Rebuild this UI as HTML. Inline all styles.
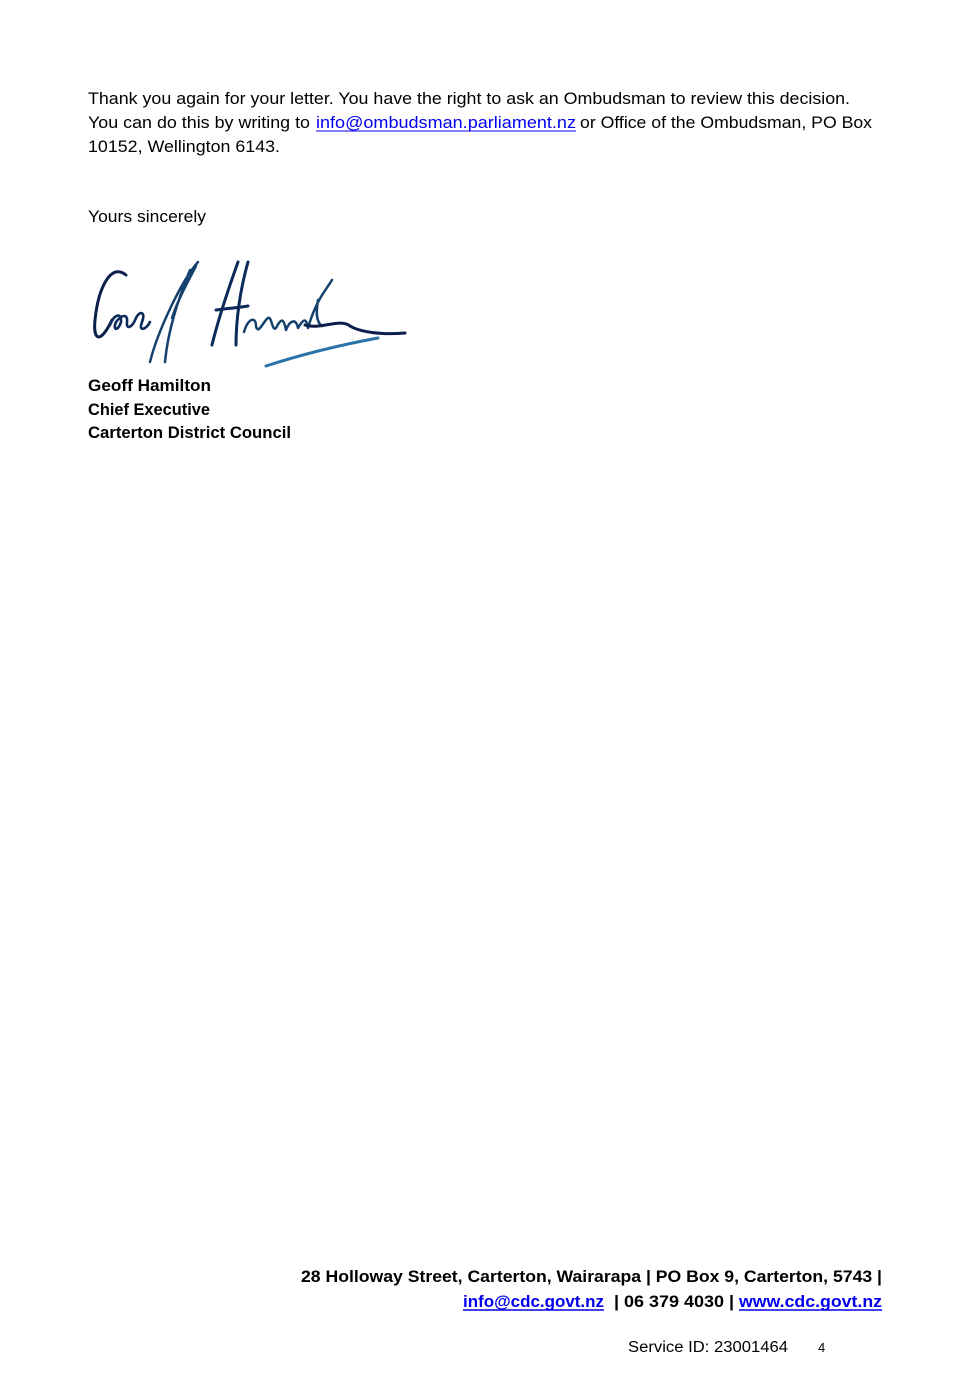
<!DOCTYPE html>
<html><head><meta charset="utf-8"><style>
html,body{margin:0;padding:0;background:#fff;}
svg{display:block}
text{font-family:"Liberation Sans",sans-serif;fill:#000}
.b{font-size:16.5px}
.bd{font-size:16.5px;font-weight:bold}
.f{font-size:16.5px;font-weight:bold}
.l{fill:#0000ee}
</style></head><body>
<svg width="968" height="1400" viewBox="0 0 968 1400">
<text class="b" x="88" y="104" textLength="762" lengthAdjust="spacingAndGlyphs">Thank you again for your letter. You have the right to ask an Ombudsman to review this decision.</text>
<text class="b" x="88" y="128" textLength="222" lengthAdjust="spacingAndGlyphs">You can do this by writing to</text>
<text class="b l" x="316" y="128" textLength="260" lengthAdjust="spacingAndGlyphs">info@ombudsman.parliament.nz</text>
<line x1="316" y1="131" x2="576" y2="131" stroke="#0000ee" stroke-width="1"/>
<text class="b" x="580" y="128" textLength="292" lengthAdjust="spacingAndGlyphs">or Office of the Ombudsman, PO Box</text>
<text class="b" x="88" y="152" textLength="192" lengthAdjust="spacingAndGlyphs">10152, Wellington 6143.</text>
<text class="b" x="88" y="222" textLength="118" lengthAdjust="spacingAndGlyphs">Yours sincerely</text>
<g fill="none" stroke-linecap="round" stroke-linejoin="round">
<path d="M126 275 C110 262 98 290 95 320 C93 340 100 345 112 320" stroke="#0c1f4a" stroke-width="3"/>
<path d="M110 325 C114 314 122 312 121 322 C119 330 112 332 116 322 C122 314 128 314 127 322 C126 330 132 328 136 318 C140 310 146 312 142 322 C138 332 146 330 150 322" stroke="#0c2a5a" stroke-width="2.6"/>
<path d="M198 262 C182 280 158 330 150 362 M190 270 C178 300 168 330 165 362 M196 266 C186 285 178 300 172 318" stroke="#15416e" stroke-width="2.5"/>
<path d="M238 262 C228 290 218 320 212 345 M248 262 C240 290 236 320 236 345 M216 310 C228 308 238 308 248 306" stroke="#0c2a5a" stroke-width="3"/>
<path d="M244 332 C248 318 256 316 256 326 C258 336 264 320 268 318 C272 316 272 332 276 328 C282 316 284 320 286 330 C290 320 296 318 298 328 C304 318 306 318 308 328 C316 300 326 290 332 280 M318 300 C316 312 316 322 322 326" stroke="#15416e" stroke-width="2.5"/>
<path d="M305 325 C320 330 340 318 350 326 C360 332 380 335 405 333" stroke="#0c1f4a" stroke-width="3"/>
<path d="M266 366 C300 355 340 345 378 338" stroke="#2a73a8" stroke-width="3"/>
</g>
<text class="bd" x="88" y="391" textLength="123" lengthAdjust="spacingAndGlyphs">Geoff Hamilton</text>
<text class="bd" x="88" y="415" textLength="122" lengthAdjust="spacingAndGlyphs">Chief Executive</text>
<text class="bd" x="88" y="438" textLength="203" lengthAdjust="spacingAndGlyphs">Carterton District Council</text>
<text class="f" x="301" y="1282" textLength="581" lengthAdjust="spacingAndGlyphs">28 Holloway Street, Carterton, Wairarapa | PO Box 9, Carterton, 5743 |</text>
<text class="f l" x="463" y="1307" textLength="141" lengthAdjust="spacingAndGlyphs">info@cdc.govt.nz</text>
<line x1="463" y1="1310" x2="604" y2="1310" stroke="#0000ee" stroke-width="1.5"/>
<text class="f" x="614" y="1307" textLength="120" lengthAdjust="spacingAndGlyphs">| 06 379 4030 |</text>
<text class="f l" x="739" y="1307" textLength="143" lengthAdjust="spacingAndGlyphs">www.cdc.govt.nz</text>
<line x1="739" y1="1310" x2="882" y2="1310" stroke="#0000ee" stroke-width="1.5"/>
<text x="628" y="1352" style="font-size:15.5px" textLength="160" lengthAdjust="spacingAndGlyphs">Service ID: 23001464</text>
<text x="818" y="1352" style="font-size:13px">4</text>
</svg>
</body></html>
